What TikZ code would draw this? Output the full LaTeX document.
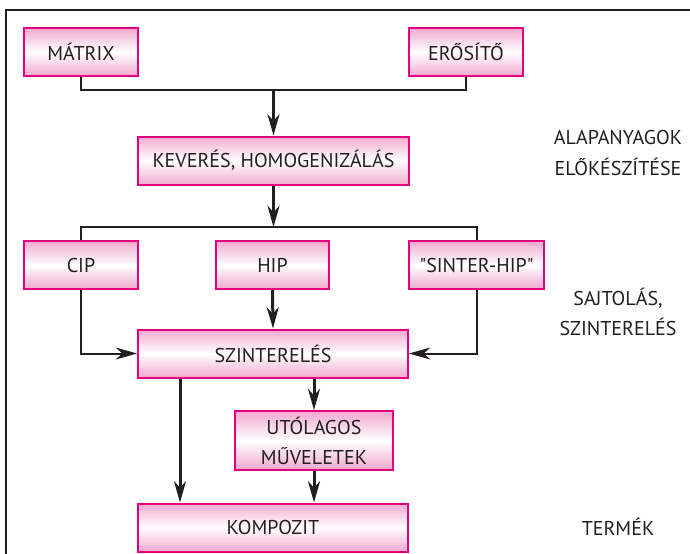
\documentclass[tikz,border=0pt]{standalone}
\usepackage{fontspec}
\setmainfont{PT Sans}
\usetikzlibrary{arrows.meta}
\definecolor{pinkline}{HTML}{E6007E}
\definecolor{pinkfill}{HTML}{F2A9CF}
\definecolor{ink}{HTML}{231F20}
\tikzset{
  box/.style={draw=pinkline,line width=1.5pt,top color=pinkfill,bottom color=pinkfill,middle color=white,
    minimum height=36pt,inner sep=2pt,text=ink,align=center,font=\fontsize{15}{22.5}\selectfont},
  side/.style={text=ink,align=center,font=\fontsize{15}{23}\selectfont},
  link/.style={draw=ink,line width=1.5pt},
  tip/.style={-{Stealth[length=16pt,width=9pt,inset=5pt]}},
  flow/.style={draw=ink,line width=2.25pt,tip},
}
\begin{document}
\begin{tikzpicture}[x=0.75pt,y=-0.75pt]
\useasboundingbox (0,0) rectangle (690,554);
\draw[draw=ink,line width=1.5pt](690,9.5)--(5.5,9.5)--(5.5,554);
% boxes
\node[box,minimum width=85.5pt](mat)at(81,52){MÁTRIX};
\node[box,minimum width=85.5pt](erosito)at(466,52){ERŐSÍTŐ};
\node[box,minimum width=203pt](keveres)at(273.5,160.5){KEVERÉS, HOMOGENIZÁLÁS};
\node[box,minimum width=85.5pt](cip)at(81,265){CIP};
\node[box,minimum width=85pt](hip)at(272.5,265){HIP};
\node[box,minimum width=101pt](sinterhip)at(476.5,265){\textquotedbl SINTER-HIP\textquotedbl};
\node[box,minimum width=202.5pt](szint)at(273,353.5){SZINTERELÉS};
\node[box,minimum width=118.5pt,minimum height=44pt](utolagos)at(314,440.5){UTÓLAGOS\\MŰVELETEK};
\node[box,minimum width=202.5pt](kompozit)at(273,527.5){KOMPOZIT};
% side labels
\node[side](alap)at(618,153){ALAPANYAGOK\\ELŐKÉSZÍTÉSE};
\node[side](sajto)at(618,312){SAJTOLÁS,\\SZINTERELÉS};
\node[side](termek)at(618,527){TERMÉK};
% connectors
\coordinate(j1)at(273.5,90);\coordinate(j2)at(273.5,227);
\draw[link](mat.south)|-(j1)-|(erosito.south);
\draw[flow](j1)--(keveres.north);
\draw[flow](keveres.south)--(j2);
\draw[link](cip.north)|-(j2)-|(sinterhip.north);
\draw[flow](hip.south)--(szint.north);
\draw[link,tip](cip.south)|-(szint.west);
\draw[link,tip](sinterhip.south)|-(szint.east);
\draw[flow]([xshift=-69.75pt]szint.south)--([xshift=-69.75pt]kompozit.north);
\draw[flow](szint.south-|utolagos.north)--(utolagos.north);
\draw[flow](utolagos.south)--(utolagos.south|-kompozit.north);
\end{tikzpicture}
\end{document}
